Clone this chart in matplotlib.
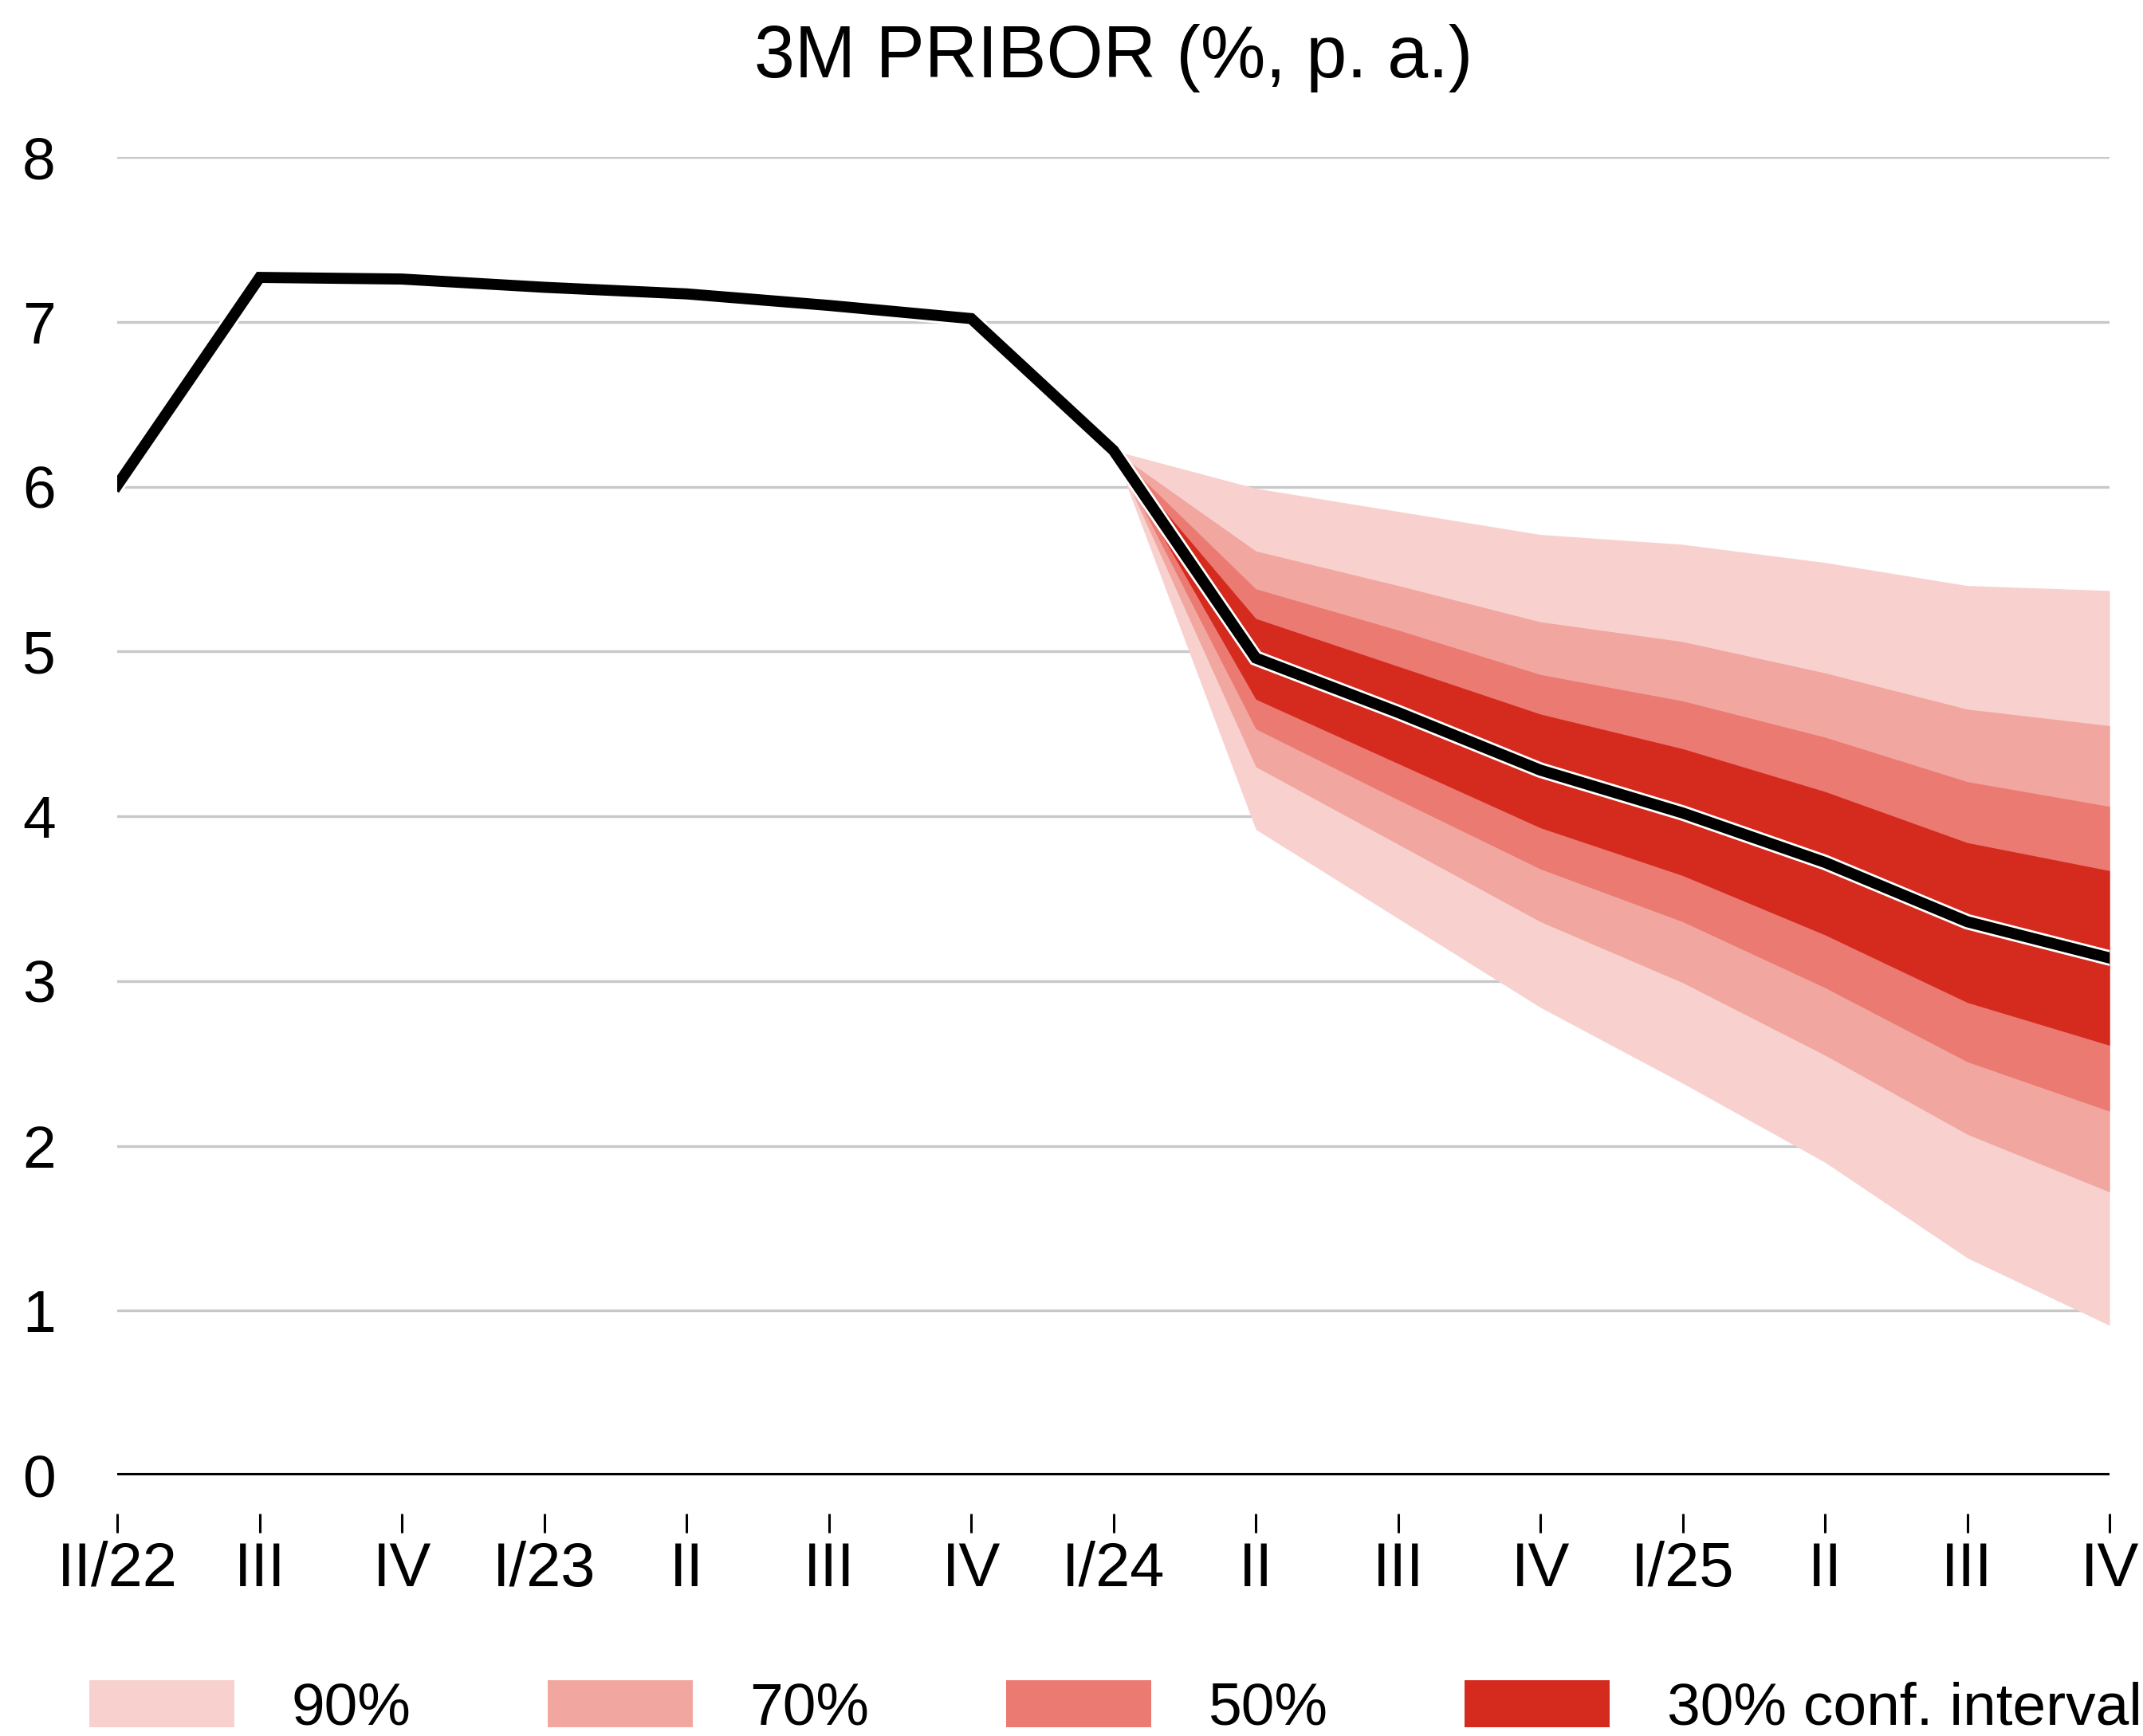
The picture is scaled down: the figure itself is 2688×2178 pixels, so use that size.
import matplotlib
matplotlib.use("Agg")
import matplotlib.pyplot as plt
import matplotlib.patheffects as pe
from matplotlib.patches import Patch

# quarters on the x axis
quarters = ["II/22", "III", "IV", "I/23", "II", "III", "IV",
            "I/24", "II", "III", "IV", "I/25", "II", "III", "IV"]

# 3M PRIBOR central path
pribor = [6.01, 7.27, 7.26, 7.21, 7.17, 7.10, 7.02,
          6.22, 4.96, 4.63, 4.28, 4.02, 3.72, 3.36, 3.14]

# fan bands, from I/24 onward (index 7..14)
fan_start = 7
upper_90 = [6.22, 5.99, 5.85, 5.71, 5.65, 5.54, 5.40, 5.37]
upper_70 = [6.22, 5.61, 5.40, 5.18, 5.06, 4.87, 4.65, 4.55]
upper_50 = [6.22, 5.38, 5.13, 4.86, 4.70, 4.48, 4.21, 4.06]
upper_30 = [6.22, 5.20, 4.91, 4.62, 4.41, 4.15, 3.84, 3.67]
lower_30 = [6.22, 4.71, 4.32, 3.93, 3.64, 3.28, 2.87, 2.61]
lower_50 = [6.22, 4.53, 4.10, 3.68, 3.36, 2.96, 2.51, 2.21]
lower_70 = [6.22, 4.30, 3.83, 3.36, 2.99, 2.55, 2.07, 1.72]
lower_90 = [6.22, 3.92, 3.38, 2.84, 2.38, 1.90, 1.32, 0.91]

band_labels = ["90%", "70%", "50%", "30% conf. interval"]
band_colors = ["#F8D1CF", "#F1A7A0", "#EB7A72", "#D52B1F"]

plt.rcParams["font.family"] = ["Liberation Sans", "DejaVu Sans"]

fig = plt.figure(figsize=(13.44, 10.89), dpi=200)
ax = fig.add_axes([0.0548, 0.1501, 0.9296, 0.7594])

x = list(range(len(quarters)))
xf = x[fan_start:]
bands = [(lower_90, upper_90), (lower_70, upper_70),
         (lower_50, upper_50), (lower_30, upper_30)]
for (lo, hi), c in zip(bands, band_colors):
    ax.fill_between(xf, lo, hi, color=c, linewidth=0, zorder=2)

ax.plot(x, pribor, color="black", lw=5, zorder=4, solid_joinstyle="miter",
        path_effects=[pe.Stroke(linewidth=7, foreground="white"), pe.Normal()])

ax.set_xlim(0, len(quarters) - 1)
ax.set_ylim(0, 8)
ax.set_yticks(range(0, 9))
ax.grid(axis="y", color="#c8c8c8", lw=1.2, zorder=0)
ax.axhline(0, color="black", lw=2.2, zorder=3)

for s in ["top", "right", "left"]:
    ax.spines[s].set_visible(False)
# ticks sit a little below the zero line, detached from it
ax.spines["bottom"].set_position(("outward", 17.3))
ax.spines["bottom"].set_visible(False)

ax.set_xticks(x)
ax.set_xticklabels(quarters)
ax.tick_params(axis="x", length=8.6, width=1.1, pad=3.5, labelsize=28)
ax.tick_params(axis="y", length=0, pad=28, labelsize=27)

ax.set_title("3M PRIBOR (%, p. a.)", fontsize=33, pad=36)

handles = [Patch(facecolor=c, edgecolor="none") for c in band_colors]
fig.legend(handles, band_labels, loc="center", bbox_to_anchor=(0.5205, 0.0158),
           ncol=4, frameon=False, fontsize=27, borderpad=0,
           handlelength=2.43, handleheight=0.83, handletextpad=0.95,
           columnspacing=2.29)

fig.savefig("out.png", dpi=200)
